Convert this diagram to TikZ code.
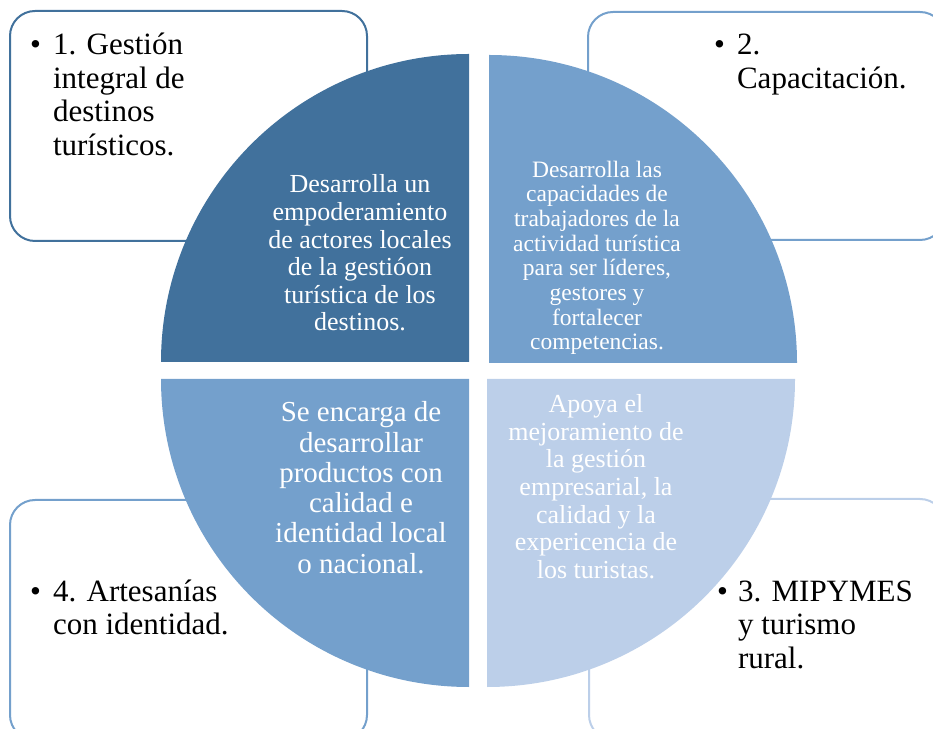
\documentclass[tikz,border=0pt]{standalone}
\usepackage{fontspec}
\setmainfont{Liberation Serif}
\definecolor{quadDark}{RGB}{65,113,156}
\definecolor{quadMid}{RGB}{116,160,204}
\definecolor{quadLight}{RGB}{188,207,233}
\tikzset{outerbox/.style={draw, line width=2pt, rounded corners=25pt, fill=white}}
\tikzset{boxtext/.style={font=\fontsize{31}{33.5}\selectfont, inner sep=0pt, anchor=base west}}
\tikzset{quadtext/.style={text=white, align=center, inner sep=0pt, anchor=base}}

\begin{document}
\begin{tikzpicture}[x=1pt,y=1pt]
    \useasboundingbox (0,0) rectangle (933,728);
    \clip (0,0) rectangle (933,728);

    % outer boxes
    \draw[outerbox, draw=quadDark] (10,717) rectangle (367,487);
    \draw[outerbox, draw=quadMid] (588,716) rectangle (945,488);
    \draw[outerbox, draw=quadMid] (10,228) rectangle (367,-12);
    \draw[outerbox, draw=quadLight] (589,229) rectangle (945,-12);

    % quadrants
    \fill[quadDark] (469,366) -- ++(-308,0) arc[start angle=180, end angle=90, radius=308] -- cycle;
    \fill[quadMid] (489,365) -- ++(0,308) arc[start angle=90, end angle=0, radius=308] -- cycle;
    \fill[quadMid] (469,349) -- ++(0,-308) arc[start angle=270, end angle=180, radius=308] -- cycle;
    \fill[quadLight] (487,349) -- ++(308,0) arc[start angle=0, end angle=-90, radius=308] -- cycle;

    % texts in the boxes
    \node[boxtext] (b1) at (30,673) {\begin{tabular}[t]{@{}l@{\hspace{12pt}}l@{}}\textbullet & 1. Gestión\\ & integral de\\ & destinos\\ & turísticos.\end{tabular}};
    \node[boxtext] (b2) at (714,673) {\begin{tabular}[t]{@{}l@{\hspace{12pt}}l@{}}\textbullet & 2.\\ & Capacitación.\end{tabular}};
    \node[boxtext] (b3) at (717,127) {\begin{tabular}[t]{@{}l@{\hspace{10pt}}l@{}}\textbullet & 3. MIPYMES\\ & y turismo\\ & rural.\end{tabular}};
    \node[boxtext] (b4) at (30,127) {\begin{tabular}[t]{@{}l@{\hspace{12pt}}l@{}}\textbullet & 4. Artesanías\\ & con identidad.\end{tabular}};

    % texts in the quadrants (base = last line)
    \node[quadtext, font=\fontsize{26}{27.6}\selectfont] (q1) at (360,397) {Desarrolla un\\empoderamiento\\de actores locales\\de la gestióon\\turística de los\\destinos.};
    \node[quadtext, font=\fontsize{23.5}{24.7}\selectfont] (q2) at (597,378) {Desarrolla las\\capacidades de\\trabajadores de la\\actividad turística\\para ser líderes,\\gestores y\\fortalecer\\competencias.};
    \node[quadtext, font=\fontsize{29}{30.2}\selectfont] (q4) at (361,155) {Se encarga de\\desarrollar\\productos con\\calidad e\\identidad local\\o nacional.};
    \node[quadtext, font=\fontsize{26}{27.5}\selectfont] (q3) at (596,150) {Apoya el\\mejoramiento de\\la gestión\\empresarial, la\\calidad y la\\expericencia de\\los turistas.};
\end{tikzpicture}
\end{document}
